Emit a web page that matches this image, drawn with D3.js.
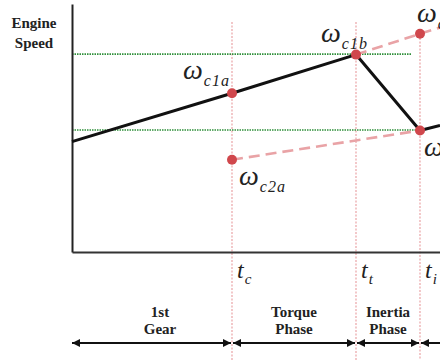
<!DOCTYPE html>
<html>
<head>
<meta charset="utf-8">
<script src="https://cdn.jsdelivr.net/npm/d3@7"></script>
<style>
  body { margin: 0; background: #fff; }
  svg { display: block; }
</style>
</head>
<body>
<div id="container"></div>
<script>
/* CONSTANTS AND GLOBALS */
const width = 440,
  height = 360,
  margin = {top: 7, bottom: 106, left: 72, right: 0};
const serif = "'Liberation Serif', 'Times New Roman', Times, 'DejaVu Serif', serif";

/* DATA */
// boundary times: start, t_c, t_t, t_i
const phaseTimes = [0, 4.0, 7.1, 8.7];
const timeSubs = ["c", "t", "i"];
const phaseNames = [["1st", "Gear"], ["Torque", "Phase"], ["Inertia", "Phase"]];

// engine speed trace
const engineTime = [0, 4.0, 7.1, 8.7, 9.2];
const engineSpeed = [4.45, 6.4, 7.96, 4.9, 5.1];

// synchronous speed levels (green)
const syncLevels = [7.98, 4.92];
const syncEnds = [8.5, 8.7];

// projected speeds (red dashed)
const upperDashTime = [7.1, 8.7, 9.2];
const upperDashSpeed = [7.96, 8.8, 9.05];
const lowerDashTime = [4.0, 8.7];
const lowerDashSpeed = [3.72, 4.9];

// marked points
const pointTime = [4.0, 7.1, 8.7, 8.7, 4.0];
const pointSpeed = [6.4, 7.96, 8.8, 4.9, 3.72];
const pointSubs = ["c1a", "c1b", "c1c", "c2b", "c2a"];

// SCALES
const xScale = d3.scaleLinear()
  .domain([0, 9.2])
  .range([margin.left, width - margin.right]);

const yScale = d3.scaleLinear()
  .domain([0, 10])
  .range([height - margin.bottom - 2, margin.top - 3]);

// CREATE SVG ELEMENT
const svg = d3.select("#container")
  .append("svg")
  .attr("width", width)
  .attr("height", height)
  .style("background-color", "white");

const pink = "#e9a3a6";
const dotRed = "#d0474c";

// vertical phase boundaries
svg.selectAll(".vline")
  .data(phaseTimes.slice(1))
  .join("line")
  .attr("class", "vline")
  .attr("x1", d => xScale(d))
  .attr("x2", d => xScale(d))
  .attr("y1", (d, i) => i === 2 ? 38 : 22)
  .attr("y2", height)
  .attr("stroke", pink)
  .attr("stroke-width", 1.2)
  .attr("stroke-dasharray", "2,1.5");

// green sync levels
svg.selectAll(".sync")
  .data(syncLevels)
  .join("line")
  .attr("class", "sync")
  .attr("x1", xScale(0))
  .attr("x2", (d, i) => xScale(syncEnds[i]))
  .attr("y1", d => yScale(d))
  .attr("y2", d => yScale(d))
  .attr("stroke", "#2f8f3a")
  .attr("stroke-width", 1.6)
  .attr("stroke-dasharray", "1.5,1");

// AXES
const yAxis = d3.axisLeft(yScale).ticks(0).tickSize(0).tickFormat("");
svg.append("g")
  .attr("transform", `translate(${xScale(0)}, 0)`)
  .call(yAxis)
  .call(g => g.select(".domain").attr("stroke", "#222").attr("stroke-width", 2));

const xAxis = d3.axisBottom(xScale).ticks(0).tickSize(0).tickFormat("");
svg.append("g")
  .attr("transform", `translate(0, ${yScale(0)})`)
  .call(xAxis)
  .call(g => g.select(".domain").attr("stroke", "#333").attr("stroke-width", 2));

["Engine", "Speed"].forEach((txt, j) => {
  svg.append("text")
    .attr("font-family", serif)
    .attr("x", 34).attr("y", 28 + j * 20)
    .attr("text-anchor", "middle")
    .attr("font-weight", "bold").attr("font-size", 15)
    .attr("fill", "#222")
    .text(txt);
});

// LINE GENERATOR
const lineGen = d3.line()
  .x(d => xScale(d[0]))
  .y(d => yScale(d[1]));

// projected dashed lines
[[upperDashTime, upperDashSpeed], [lowerDashTime, lowerDashSpeed]].forEach(([ts, vs]) => {
  svg.append("path")
    .attr("fill", "none")
    .attr("stroke", pink)
    .attr("stroke-width", 2.6)
    .attr("stroke-dasharray", "11,6")
    .attr("d", lineGen(d3.zip(ts, vs)));
});

// engine speed
svg.append("path")
  .attr("fill", "none")
  .attr("stroke", "#111")
  .attr("stroke-width", 3)
  .attr("stroke-linejoin", "round")
  .attr("d", lineGen(d3.zip(engineTime, engineSpeed)));

// points
svg.selectAll(".pt")
  .data(d3.zip(pointTime, pointSpeed))
  .join("circle")
  .attr("class", "pt")
  .attr("cx", d => xScale(d[0]))
  .attr("cy", d => yScale(d[1]))
  .attr("r", 5)
  .attr("fill", dotRed);

// omega labels (offset from their points)
const labelOffsets = [[-49, -14], [-35, -13], [-3, -12], [4, 26], [7, 25]];
pointSubs.forEach((s, i) => {
  const t = svg.append("text")
    .attr("font-family", serif)
    .attr("x", xScale(pointTime[i]) + labelOffsets[i][0])
    .attr("y", yScale(pointSpeed[i]) + labelOffsets[i][1])
    .attr("font-style", "italic")
    .attr("fill", "#222");
  t.append("tspan").attr("font-size", 28).text("ω");
  t.append("tspan").attr("font-size", 16).attr("dy", 7).attr("dx", 1)
    .attr("letter-spacing", 1).text(s);
});

// time labels
timeSubs.forEach((s, i) => {
  const t = svg.append("text")
    .attr("font-family", serif)
    .attr("x", xScale(phaseTimes[i + 1]) + 5)
    .attr("y", 278)
    .attr("font-style", "italic")
    .attr("fill", "#222");
  t.append("tspan").attr("font-size", 24).text("t");
  t.append("tspan").attr("font-size", 15).attr("dy", 6).attr("dx", 1).text(s);
});

// phase arrows
const arrowY = 343;
svg.append("defs").append("marker")
  .attr("id", "head")
  .attr("viewBox", "0 0 10 10")
  .attr("refX", 10).attr("refY", 5)
  .attr("markerWidth", 9).attr("markerHeight", 8)
  .attr("markerUnits", "userSpaceOnUse")
  .attr("orient", "auto-start-reverse")
  .append("path")
  .attr("d", "M0,0L10,5L0,10Z")
  .attr("fill", "#111");

const bounds = phaseTimes.concat([9.6]);
d3.pairs(bounds).forEach(([a, b], i) => {
  svg.append("line")
    .attr("x1", xScale(a) + (i === 0 ? 0 : 1))
    .attr("x2", xScale(b) - 1)
    .attr("y1", arrowY).attr("y2", arrowY)
    .attr("stroke", "#111")
    .attr("stroke-width", 2)
    .attr("marker-start", "url(#head)")
    .attr("marker-end", "url(#head)");
});

phaseNames.forEach((lines, i) => {
  const cx = (xScale(phaseTimes[i]) + xScale(phaseTimes[i + 1])) / 2 + (i === 0 ? 8 : 0);
  lines.forEach((txt, j) => {
    svg.append("text")
      .attr("font-family", serif)
      .attr("x", cx)
      .attr("y", 317 + j * 17)
      .attr("text-anchor", "middle")
      .attr("font-weight", "bold")
      .attr("font-size", 15)
      .attr("fill", "#222")
      .text(txt);
  });
});
</script>
</body>
</html>
